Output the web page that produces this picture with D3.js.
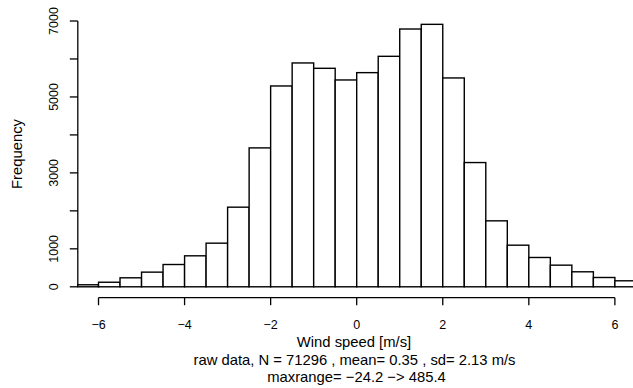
<!DOCTYPE html>
<html>
<head>
<meta charset="utf-8">
<script src="https://cdn.jsdelivr.net/npm/d3@7"></script>
<style>
  body { margin: 0; background: #fff; }
  text { font-family: "Liberation Sans", Arial, sans-serif; fill: #000; }
</style>
</head>
<body>
<div id="chart"></div>
<script>
// Histogram of wind speed (R-style hist)

// bin edges start at -6.5, width 0.5
const binStarts = [-6.5, -6, -5.5, -5, -4.5, -4, -3.5, -3, -2.5, -2, -1.5, -1, -0.5,
                   0, 0.5, 1, 1.5, 2, 2.5, 3, 3.5, 4, 4.5, 5, 5.5, 6];
const counts = [53, 120, 237, 386, 587, 816, 1149, 2097, 3658, 5289, 5895, 5754, 5447,
                5640, 6070, 6789, 6912, 5500, 3272, 1737, 1096, 772, 570, 395, 245, 158];
const binWidth = 0.5;
const xTicks = [-6, -4, -2, 0, 2, 4, 6];
const yTicks = [0, 1000, 2000, 3000, 4000, 5000, 6000, 7000];
const yLabels = [0, 1000, 3000, 5000, 7000];

const width = 633, height = 388;
const tickFont = '12.5px';
const titleFont = '14.8px';

const svg = d3.select('#chart')
    .append('svg')
    .attr('width', width)
    .attr('height', height);

const x = d3.scaleLinear().domain([-6.5, 6.5]).range([77, 636.4]);
const y = d3.scaleLinear().domain([0, 7000]).range([286.8, 21]);

// clip the bars to the plot region
svg.append('clipPath').attr('id', 'plot-clip')
    .append('rect')
    .attr('x', 77).attr('y', 0)
    .attr('width', width - 77).attr('height', 300);

// Bars
svg.append('g')
    .attr('clip-path', 'url(#plot-clip)')
    .selectAll('rect')
    .data(binStarts)
    .enter()
    .append('rect')
    .attr('x', d => x(d))
    .attr('y', (d, i) => y(counts[i]))
    .attr('width', d => x(d + binWidth) - x(d))
    .attr('height', (d, i) => y(0) - y(counts[i]))
    .attr('fill', '#fff')
    .attr('stroke', '#000')
    .attr('stroke-width', 1.4);

// X axis (R-style: line spans first to last tick)
const xAxis = svg.append('g')
    .attr('transform', 'translate(0, 297.7)');
xAxis.append('line')
    .attr('x1', x(xTicks[0])).attr('x2', x(xTicks[xTicks.length - 1]))
    .attr('stroke', '#000').attr('stroke-width', 1.3);
xAxis.selectAll('.tick')
    .data(xTicks)
    .enter()
    .append('line')
    .attr('x1', d => x(d)).attr('x2', d => x(d))
    .attr('y1', 0).attr('y2', 7.5)
    .attr('stroke', '#000').attr('stroke-width', 1.3);
xAxis.selectAll('.lab')
    .data(xTicks)
    .enter()
    .append('text')
    .attr('x', d => x(d))
    .attr('y', 31.3)
    .attr('text-anchor', 'middle')
    .style('font-size', tickFont)
    .text(d => d < 0 ? '\u2212' + Math.abs(d) : d);

// Y axis
const yAxis = svg.append('g')
    .attr('transform', 'translate(77.8, 0)');
yAxis.append('line')
    .attr('y1', y(0)).attr('y2', y(7000))
    .attr('stroke', '#000').attr('stroke-width', 1.3);
yAxis.selectAll('.tick')
    .data(yTicks)
    .enter()
    .append('line')
    .attr('x1', -8).attr('x2', 0)
    .attr('y1', d => y(d)).attr('y2', d => y(d))
    .attr('stroke', '#000').attr('stroke-width', 1.3);
yAxis.selectAll('.lab')
    .data(yLabels)
    .enter()
    .append('text')
    .attr('transform', d => `translate(-20.3, ${y(d)}) rotate(-90)`)
    .attr('text-anchor', 'middle')
    .style('font-size', tickFont)
    .text(d => d);

// Titles
svg.append('text')
    .attr('transform', 'translate(22, 154) rotate(-90)')
    .attr('text-anchor', 'middle')
    .style('font-size', titleFont)
    .text('Frequency');

svg.append('text')
    .attr('x', 354).attr('y', 347.2)
    .attr('text-anchor', 'middle')
    .style('font-size', titleFont)
    .text('Wind speed [m/s]');

svg.append('text')
    .attr('x', 354.5).attr('y', 364.8)
    .attr('text-anchor', 'middle')
    .style('font-size', titleFont)
    .text('raw data, N = 71296 , mean= 0.35 , sd= 2.13 m/s');

svg.append('text')
    .attr('x', 356.5).attr('y', 381.5)
    .attr('text-anchor', 'middle')
    .style('font-size', titleFont)
    .text('maxrange= \u221224.2 \u2212> 485.4');
</script>
</body>
</html>
